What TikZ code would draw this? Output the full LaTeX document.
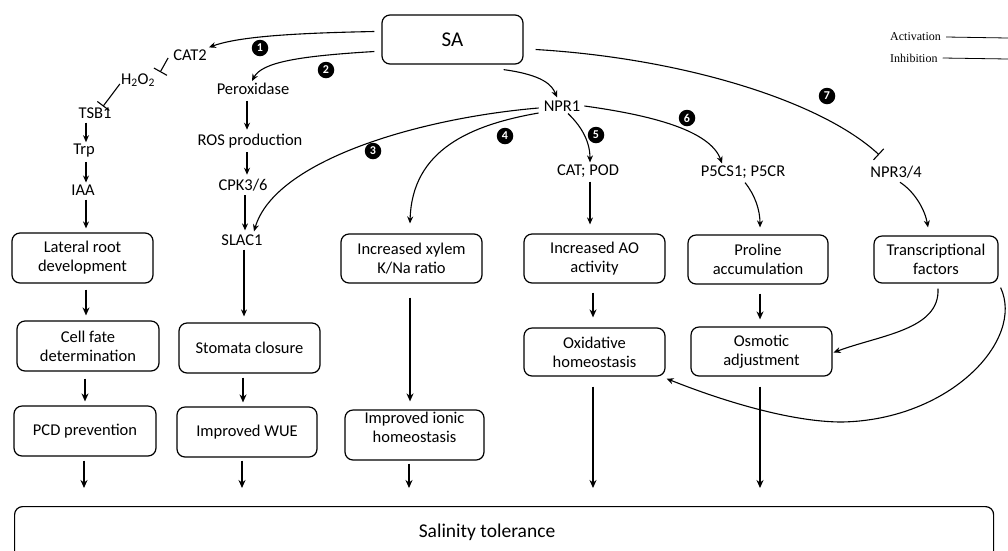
\documentclass[tikz,border=0pt]{standalone}
\usepackage{fontspec}
\setmainfont{Carlito}
\newfontfamily\legfont{Liberation Serif}
\usetikzlibrary{arrows.meta,calc}
\begin{document}
\begin{tikzpicture}[x=1pt,y=-1pt,
  box/.style={draw,line width=1.2pt,rounded corners=8pt,align=center,inner sep=0pt,
    font=\fontsize{16.5}{19}\selectfont},
  lbl/.style={inner sep=4pt,font=\fontsize{16.5}{19}\selectfont},
  num/.style={circle,fill=black,text=white,inner sep=0pt,minimum size=16.5pt,
    font=\fontsize{12}{12}\selectfont\bfseries},
  arr/.style={line width=1.1pt,-{Stealth[length=7pt,width=6pt]}},
  tarr/.style={line width=2.2pt,-{Stealth[length=8pt,width=7pt]}},
  inh/.style={line width=1.1pt,-{Bar[width=15pt,line width=1.1pt]}},
  leg/.style={font=\legfont\fontsize{12}{14}\selectfont,anchor=west,inner sep=0pt}]
\useasboundingbox (0,0) rectangle (1008,550);
\clip (0,0) rectangle (1008,550);
% boxes
\node[box,minimum width=141pt,minimum height=49pt,font=\fontsize{21}{24}\selectfont] (SA) at (452.5,39.5) {SA};
\node[box,minimum width=141pt,minimum height=50pt] (lat) at (82.5,258) {Lateral root\\development};
\node[box,minimum width=142pt,minimum height=50pt] (cell) at (88,346) {Cell fate\\determination};
\node[box,minimum width=142pt,minimum height=50pt] (pcd) at (85,431) {PCD prevention};
\node[box,minimum width=141pt,minimum height=50pt] (stom) at (249.5,348) {Stomata closure};
\node[box,minimum width=140pt,minimum height=50pt] (wue) at (247,432) {Improved WUE};
\node[box,minimum width=141pt,minimum height=49pt] (xyl) at (411.5,258.5) {Increased xylem\\K/Na ratio};
\node[box,minimum width=139pt,minimum height=50pt] (ion) at (414.5,435) {};
\node[inner sep=0pt,align=center,font=\fontsize{16.5}{19}\selectfont] (iontxt) at (414.5,427) {Improved ionic\\homeostasis};
\node[box,minimum width=141pt,minimum height=49pt] (ao) at (594.5,258.5) {Increased AO\\activity};
\node[box,minimum width=141pt,minimum height=48pt] (oxi) at (594.5,352) {Oxidative\\homeostasis};
\node[box,minimum width=140pt,minimum height=49pt] (pro) at (758,259.5) {Proline\\accumulation};
\node[box,minimum width=141pt,minimum height=49pt] (osm) at (761.5,351.5) {Osmotic\\adjustment};
\node[box,minimum width=124pt,minimum height=47pt] (tf) at (936,259.5) {Transcriptional\\factors};
\node[box,minimum width=979pt,minimum height=54pt,anchor=north west] (sal) at (14,506) {};
\node[inner sep=0pt,font=\fontsize{19.5}{22}\selectfont] (saltxt) at (487,532) {Salinity tolerance};
% text nodes
\node[lbl] (cat2) at (190,55) {CAT2};
\node[lbl] (h2o2) at (138,80) {H\textsubscript{2}O\textsubscript{2}};
\node[lbl] (tsb1) at (95,113) {TSB1};
\node[lbl] (trp) at (84,151) {Trp};
\node[lbl] (iaa) at (83,190) {IAA};
\node[lbl] (perox) at (253,89) {Peroxidase};
\node[lbl] (ros) at (250,141) {ROS production};
\node[lbl] (cpk) at (243,185) {CPK3/6};
\node[lbl] (slac) at (242,240) {SLAC1};
\node[lbl] (npr1) at (562,106) {NPR1};
\node[lbl] (catpod) at (588,171) {CAT; POD};
\node[lbl] (p5cs) at (743,172) {P5CS1; P5CR};
\node[lbl] (npr34) at (896,172) {NPR3/4};
% numbers
\node[num] (n1) at (260,48) {1};
\node[num] (n2) at (326,70) {2};
\node[num] (n3) at (373,151) {3};
\node[num] (n4) at (505,136) {4};
\node[num] (n5) at (596,135) {5};
\node[num] (n6) at (687,118) {6};
\node[num] (n7) at (827,96) {7};
% legend
\node[leg] (lact) at (890,37) {Activation};
\node[leg] (linh) at (890,58) {Inhibition};
\coordinate (lacte) at (1008,38);
\coordinate (linhe) at (1008,59);
\draw[line width=0.8pt] ([xshift=5pt]lact.east) -- (lacte);
\draw[line width=0.8pt] ([xshift=5pt]linh.east) -- (linhe);
% SA branches
\draw[arr] ([shift={(-7pt,8pt)}]SA.west) .. controls (300,33) and (240,36) .. ([shift={(-2pt,-2pt)}]cat2.north east);
\draw[arr] ([shift={(-7pt,-12pt)}]SA.west) .. controls (300,56) and (262,62) .. ([shift={(-1pt,-2pt)}]perox.north);
\draw[arr] ([shift={(-20pt,-5pt)}]SA.south east) .. controls (543,75) and (552,85) .. ([xshift=-5pt,yshift=-1pt]npr1.north);
\draw[inh] ([shift={(12pt,-10pt)}]SA.east) .. controls (680,58) and (820,100) .. ([shift={(-17pt,7pt)}]npr34.north);
% left chain
\draw[inh] ([shift={(-1pt,-3pt)}]cat2.west) -- ([shift={(1pt,-3pt)}]h2o2.north east);
\draw[inh] ([shift={(3pt,-4pt)}]h2o2.west) -- ([shift={(8pt,-3pt)}]tsb1.north);
\draw[arr] (tsb1.south -| 86,0) -- ([yshift=-2pt]trp.north -| 86,0);
\draw[arr] (trp.south -| 86,0) -- ([yshift=-2pt]iaa.north -| 86,0);
\draw[arr] (iaa.south -| 86,0) -- ([yshift=4pt]lat.north -| 86,0);
\draw[tarr] ([yshift=-6pt]lat.south -| 86,0) -- ([yshift=5pt]cell.north -| 86,0);
\draw[tarr] ([yshift=-7pt]cell.south -| 85,0) -- ([yshift=4pt]pcd.north -| 85,0);
\draw[tarr] ([yshift=-4pt]pcd.south -| 84,0) -- ([yshift=18pt]sal.north -| 84,0);
% stomata chain
\draw[arr] ([yshift=-2pt]perox.south -| 247,0) -- (ros.north -| 247,0);
\draw[arr] (ros.south -| 247,0) -- (cpk.north -| 247,0);
\draw[arr] (cpk.south -| 245,0) -- (slac.north -| 245,0);
\draw[arr] ([xshift=-1pt,yshift=-2pt]npr1.west) .. controls (420,118) and (275,160) .. ([xshift=12pt,yshift=-1pt]slac.north);
\draw[arr] (slac.south -| 244,0) -- ([yshift=6pt]stom.north -| 244,0);
\draw[tarr] ([yshift=-4pt]stom.south -| 243,0) -- ([yshift=4pt]wue.north -| 243,0);
\draw[tarr] ([yshift=-3pt]wue.south -| 242,0) -- ([yshift=18pt]sal.north -| 242,0);
% xylem chain
\draw[arr] ([xshift=-1pt,yshift=-7pt]npr1.west) .. controls (470,125) and (412,150) .. ([yshift=10pt]xyl.north -| 410,0);
\draw[tarr] ([yshift=-14pt]xyl.south -| 410,0) -- ([yshift=8pt]ion.north -| 410,0);
\draw[tarr] ([yshift=-3pt]ion.south -| 409,0) -- ([yshift=18pt]sal.north -| 409,0);
% AO chain
\draw[arr] ([shift={(6pt,2pt)}]npr1.south) .. controls (580,125) and (590,140) .. ([xshift=2pt,yshift=-2pt]catpod.north);
\draw[arr] (catpod.south -| 590,0) -- ([yshift=9pt]ao.north -| 590,0);
\draw[tarr] ([yshift=-9pt]ao.south -| 593,0) -- ([yshift=10pt]oxi.north -| 593,0);
\draw[tarr] ([yshift=-10pt]oxi.south -| 593,0) -- ([yshift=18pt]sal.north -| 593,0);
% proline chain
\draw[arr] ([shift={(0pt,0pt)}]npr1.east) .. controls (650,115) and (710,130) .. ([xshift=-21pt,yshift=-2pt]p5cs.north);
\draw[arr] ([xshift=2pt]p5cs.south) .. controls (755,195) and (760,210) .. ([yshift=7pt]pro.north -| 760,0);
\draw[tarr] ([yshift=-9pt]pro.south -| 760,0) -- ([yshift=7pt]osm.north -| 760,0);
\draw[tarr] ([yshift=-10pt]osm.south -| 760,0) -- ([yshift=18pt]sal.north -| 760,0);
% NPR3/4 chain
\draw[arr] ([xshift=4pt]npr34.south) .. controls (915,192) and (925,210) .. ([yshift=8pt]tf.north -| 928,0);
\draw[arr] ([yshift=-5pt]tf.south -| 938,0) .. controls (940,330) and (880,335) .. ([xshift=1pt,yshift=-1pt]osm.east);
\draw[arr] ([shift={(2pt,-4pt)}]tf.south east) .. controls (1025,340) and (950,420) .. (842,422)
  .. controls (790,422) and (720,400) .. ([shift={(1pt,-2pt)}]oxi.south east);
\end{tikzpicture}
\end{document}
